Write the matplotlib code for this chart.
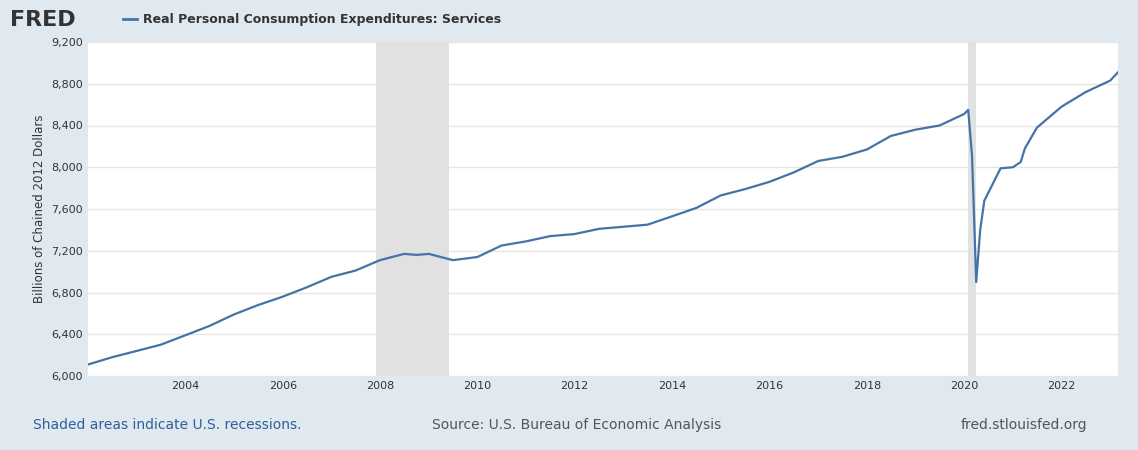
import matplotlib
matplotlib.use("Agg")
import matplotlib.pyplot as plt
import pandas as pd

dates = ["2002-01","2002-07","2003-01","2003-07","2004-01","2004-07","2005-01","2005-07",
         "2006-01","2006-07","2007-01","2007-07","2008-01","2008-07","2008-10","2009-01",
         "2009-07","2010-01","2010-07","2011-01","2011-07","2012-01","2012-07","2013-01",
         "2013-07","2014-01","2014-07","2015-01","2015-07","2016-01","2016-07","2017-01",
         "2017-07","2018-01","2018-07","2019-01","2019-07","2020-01","2020-02","2020-03",
         "2020-04","2020-05","2020-06","2020-10","2021-01","2021-03","2021-04","2021-07",
         "2022-01","2022-07","2023-01","2023-03"]
values = [6110,6180,6240,6300,6390,6480,6590,6680,6760,6850,6950,7010,7110,7170,7160,7170,
          7110,7140,7250,7290,7340,7360,7410,7430,7450,7530,7610,7730,7790,7860,7950,8060,
          8100,8170,8300,8360,8400,8510,8550,8100,6900,7400,7680,7990,8000,8050,8180,8380,
          8580,8720,8830,8910]
recessions = [("2007-12","2009-06"),("2020-02","2020-04")]
yticks = [6000,6400,6800,7200,7600,8000,8400,8800,9200]

x = pd.to_datetime(dates)
bg = "#e1e9f0"
fig = plt.figure(figsize=(11.38,4.5), dpi=100, facecolor=bg)
ax = fig.add_axes([88/1138, 1-376/450, 1030/1138, 334/450])
ax.set_facecolor("white")
for a,b in recessions:
    ax.axvspan(pd.Timestamp(a), pd.Timestamp(b), color="#e1e1e1", lw=0)
ax.plot(x, values, color="#4572a7", lw=1.6)
ax.set_xlim(pd.Timestamp("2002-01-01"), pd.Timestamp("2023-03-01"))
ax.set_ylim(6000, 9200)
ax.set_yticks(yticks)
ax.set_yticklabels([f"{v:,}" for v in yticks])
ax.set_xticks(pd.to_datetime([f"{y}-01-01" for y in range(2004,2023,2)]))
ax.set_xticklabels([str(y) for y in range(2004,2023,2)])
ax.grid(axis="y", color="#e6e6e6", lw=1)
ax.set_axisbelow(True)
for s in ax.spines.values(): s.set_visible(False)
ax.tick_params(length=0, labelsize=8, colors="#333333")
ax.set_ylabel("Billions of Chained 2012 Dollars", fontsize=8.5, color="#333333")
fig.text(10/1138, 1-20/450, "FRED", fontsize=16, fontweight="bold", color="#333333", va="center")
fig.add_artist(plt.Line2D([123/1138,137/1138],[1-19/450,1-19/450], color="#4572a7", lw=2))
fig.text(143/1138, 1-19/450, "Real Personal Consumption Expenditures: Services", fontsize=9,
         fontweight="bold", color="#333333", va="center")
fig.text(33/1138, 1-425/450, "Shaded areas indicate U.S. recessions.", fontsize=10, color="#2f5f9a", va="center")
fig.text(432/1138, 1-425/450, "Source: U.S. Bureau of Economic Analysis", fontsize=10, color="#555555", va="center")
fig.text(1087/1138, 1-425/450, "fred.stlouisfed.org", fontsize=10, color="#555555", va="center", ha="right")
fig.savefig("out.png", dpi=100, facecolor=bg)
